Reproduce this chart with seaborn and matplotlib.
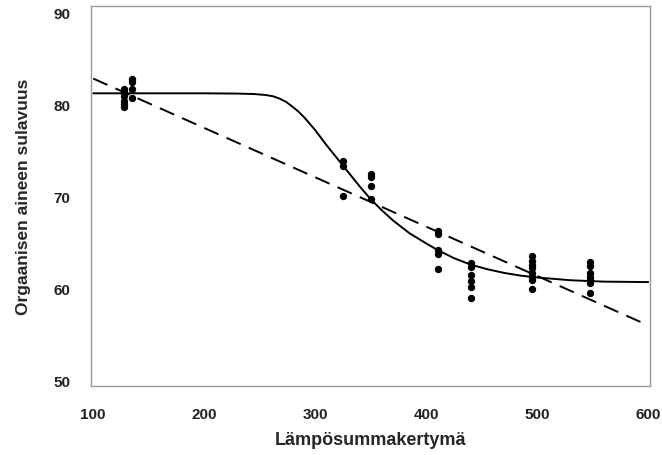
import numpy as np
import pandas as pd
import matplotlib
matplotlib.use("Agg")
import matplotlib.pyplot as plt
import seaborn as sns

obs_x = [128] * 6 + [135] * 4 + [325] * 3 + [350] * 4 + [411] * 5 + [440] * 6 + [495] * 8 + [548] * 7
obs_y = [81.7, 81.3, 80.9, 80.4, 80.0, 79.7,
         82.8, 82.4, 81.7, 80.7,
         73.9, 73.3, 70.0,
         72.4, 72.1, 71.1, 69.7,
         66.2, 65.9, 64.2, 63.7, 62.1,
         62.8, 62.3, 61.5, 60.8, 60.2, 59.0,
         63.5, 63.0, 62.6, 62.2, 61.7, 61.2, 60.9, 60.0,
         62.9, 62.5, 61.7, 61.3, 60.9, 60.6, 59.5]

# Sigmoid fit (solid line)
curve_x = [100, 150, 200, 230, 245, 255, 262, 268, 274, 280, 285, 290, 300, 310, 320,
           330, 340, 350, 360, 370, 385, 400, 410, 425, 440, 455, 470, 485, 500,
           530, 560, 600]
curve_y = [81.2, 81.2, 81.2, 81.17, 81.12, 81.02, 80.88, 80.62, 80.25, 79.7, 79.2, 78.6,
           77.2, 75.6, 74.1, 72.6, 71.1, 69.7, 68.5, 67.4, 66.0, 64.9, 64.2, 63.3,
           62.6, 62.1, 61.7, 61.4, 61.2, 60.9, 60.75, 60.7]

# Linear fit (dashed line)
lin_x = [100, 600]
lin_y = [82.8, 56.0]

points = pd.DataFrame({"x": obs_x, "y": obs_y})
curve = pd.DataFrame({"x": curve_x, "y": curve_y})
linear = pd.DataFrame({"x": lin_x, "y": lin_y})

sns.set_theme(style="white")
plt.rcParams['font.family'] = ['Liberation Sans', 'DejaVu Sans']

fig = plt.figure(figsize=(6.62, 4.56), dpi=100)
ax = fig.add_axes([0.1375, 0.151, 0.845, 0.833])

sns.lineplot(data=linear, x="x", y="y", ax=ax, color="black", linewidth=1.4,
             dashes=False, linestyle=(0, (8, 4.5)))
sns.lineplot(data=curve, x="x", y="y", ax=ax, color="black", linewidth=1.4)
sns.scatterplot(data=points, x="x", y="y", ax=ax, color="black", s=28,
                marker="o", edgecolor="black", linewidth=0, zorder=3)

ax.set_xlim(98, 602)
ax.set_ylim(49.4, 90.65)
ax.set_xticks([100, 200, 300, 400, 500, 600])
ax.set_yticks([50, 60, 70, 80, 90])

for sp in ax.spines.values():
    sp.set_color("#9a9a9a")
    sp.set_linewidth(1.0)

ax.tick_params(axis="both", which="major", direction="out", length=4, width=0.8,
               color="#9a9a9a", pad=11, labelsize=11, labelcolor="#222222")
for lab in ax.get_xticklabels() + ax.get_yticklabels():
    lab.set_fontweight("bold")

ax.set_xlabel("Lämpösummakertymä", fontsize=13, fontweight="bold", labelpad=7)
ax.set_ylabel("Orgaanisen aineen sulavuus", fontsize=12.5, fontweight="bold", labelpad=16)

fig.savefig("out.png", dpi=100)
plt.close(fig)
